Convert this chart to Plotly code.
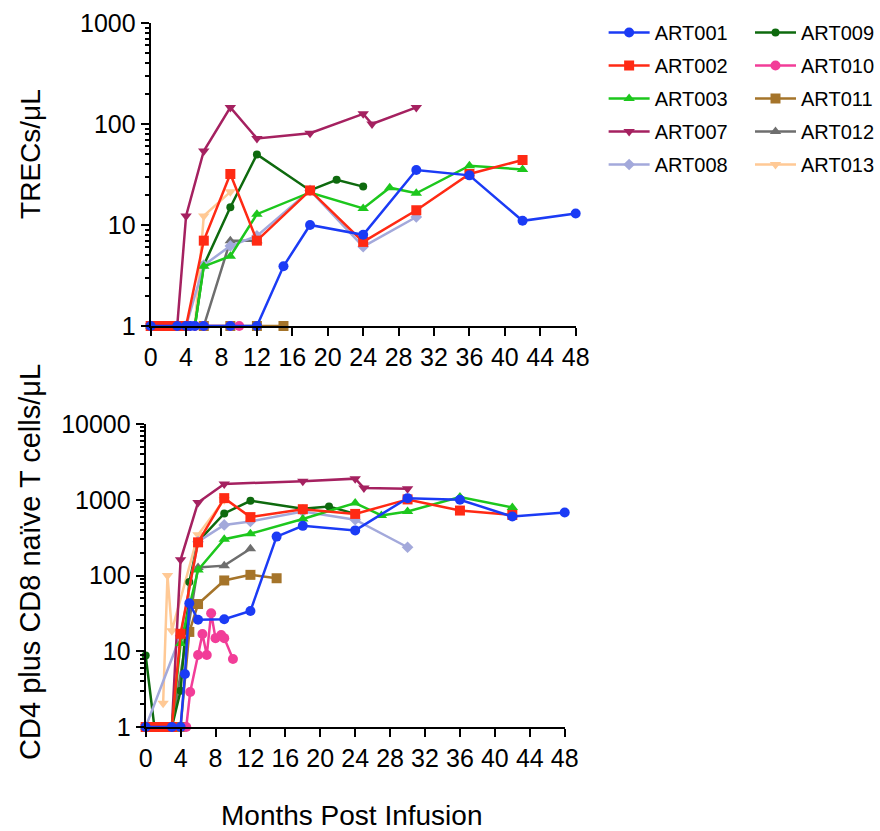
import plotly.graph_objects as go

# ---- data: months post infusion and measured values per patient ----
patients = ["ART001", "ART002", "ART003", "ART007", "ART008",
            "ART009", "ART010", "ART011", "ART012", "ART013"]

# TRECs/uL (top panel)
trec_months_001 = [0, 3, 4, 4.5, 5, 6, 9, 12, 15, 18, 24, 30, 36, 42, 48]
trec_vals_001 = [1, 1, 1, 1, 1, 1, 1, 1, 3.9, 10, 8, 35, 31, 11, 13]
trec_months_002 = [0, 1, 2, 3, 4, 6, 9, 12, 18, 24, 30, 36, 42]
trec_vals_002 = [1, 1, 1, 1, 1, 7, 32, 7, 22, 6.8, 14, 32, 44]
trec_months_003 = [0, 1, 2, 3, 4, 5, 6, 9, 12, 18, 24, 27, 30, 36, 42]
trec_vals_003 = [1, 1, 1, 1, 1, 1, 3.9, 4.9, 12.8, 21, 14.6, 23.4, 20.6, 38.6, 35.5]
trec_months_007 = [0, 1, 2, 3, 4, 6, 9, 12, 18, 24, 25, 30]
trec_vals_007 = [1, 1, 1, 1, 12.3, 54, 146, 72, 81, 126, 100, 146]
trec_months_008 = [0, 4, 6, 9, 12, 18, 24, 30]
trec_vals_008 = [1, 1, 4, 6.2, 7.8, 22, 6.1, 12]
trec_months_009 = [0, 1, 2, 3, 4, 5, 6, 9, 12, 18, 21, 24]
trec_vals_009 = [1, 1, 1, 1, 1, 1, 4, 15, 50, 22, 28, 24]
trec_months_010 = [5, 6, 9, 10]
trec_vals_010 = [1, 1, 1, 1]
trec_months_011 = [6, 9, 12, 15]
trec_vals_011 = [1, 1, 1, 1]
trec_months_012 = [6, 9, 12]
trec_vals_012 = [1, 7, 7]
trec_months_013 = [5, 6, 9]
trec_vals_013 = [1, 12.3, 21.3]

# CD4 plus CD8 naive T cells/uL (bottom panel)
naive_months_001 = [0, 3, 4, 4.5, 5, 6, 9, 12, 15, 18, 24, 30, 36, 42, 48]
naive_vals_001 = [1, 1, 1, 5, 43, 26, 26.5, 34, 326, 452, 394, 1050, 1000, 600, 680]
naive_months_002 = [0, 1, 2, 3, 4, 6, 9, 12, 18, 24, 30, 36, 42]
naive_vals_002 = [1, 1, 1, 1, 17, 274, 1050, 590, 750, 650, 1010, 720, 630]
naive_months_003 = [0, 1, 2, 3, 4, 6, 9, 12, 18, 24, 27, 30, 36, 42]
naive_vals_003 = [1, 1, 1, 1, 12.7, 118, 301, 356, 558, 906, 620, 700, 1085, 790]
naive_months_007 = [0, 1, 2, 3, 4, 6, 9, 18, 24, 25, 30]
naive_vals_007 = [1, 1, 1, 1, 161, 922, 1620, 1750, 1900, 1430, 1400]
naive_months_008 = [0, 4, 6, 9, 12, 18, 24, 30]
naive_vals_008 = [1, 16, 280, 465, 517, 700, 545, 236]
naive_months_009 = [0, 1, 2, 3, 4, 5, 6, 9, 12, 18, 21, 24]
naive_vals_009 = [8.8, 1, 1, 1, 3, 82, 280, 660, 970, 760, 815, 650]
naive_months_010 = [4.65, 5.1, 6, 6.5, 7, 7.5, 8, 8.65, 9, 10]
naive_vals_010 = [1, 2.9, 8.9, 16.9, 8.9, 31.8, 14.9, 16.4, 14.9, 7.9]
naive_months_011 = [4, 5, 6, 9, 12, 15]
naive_vals_011 = [1, 18, 42, 86, 102, 92]
naive_months_012 = [3, 6, 9, 12]
naive_vals_012 = [1, 128, 135, 225]
naive_months_013 = [2, 2.5, 3, 6, 9]
naive_vals_013 = [2.06, 100, 18.7, 344, 1000]

x_ticks = list(range(0, 49, 4))
trec_ticks = [1, 10, 100, 1000]
naive_ticks = [1, 10, 100, 1000, 10000]

trec_series = {
    "ART001": (trec_months_001, trec_vals_001), "ART002": (trec_months_002, trec_vals_002),
    "ART003": (trec_months_003, trec_vals_003), "ART007": (trec_months_007, trec_vals_007),
    "ART008": (trec_months_008, trec_vals_008), "ART009": (trec_months_009, trec_vals_009),
    "ART010": (trec_months_010, trec_vals_010), "ART011": (trec_months_011, trec_vals_011),
    "ART012": (trec_months_012, trec_vals_012), "ART013": (trec_months_013, trec_vals_013),
}
naive_series = {
    "ART001": (naive_months_001, naive_vals_001), "ART002": (naive_months_002, naive_vals_002),
    "ART003": (naive_months_003, naive_vals_003), "ART007": (naive_months_007, naive_vals_007),
    "ART008": (naive_months_008, naive_vals_008), "ART009": (naive_months_009, naive_vals_009),
    "ART010": (naive_months_010, naive_vals_010), "ART011": (naive_months_011, naive_vals_011),
    "ART012": (naive_months_012, naive_vals_012), "ART013": (naive_months_013, naive_vals_013),
}

# ---- styles ----
style = {
    "ART001": ("#1B3BF5", "circle", 10),
    "ART002": ("#FF2A14", "square", 10),
    "ART003": ("#1DC71D", "triangle-up", 10),
    "ART007": ("#A52160", "triangle-down", 10),
    "ART008": ("#A3A9DB", "diamond", 9),
    "ART009": ("#0E6A0E", "circle", 8),
    "ART010": ("#F23D98", "circle", 10),
    "ART011": ("#A5742A", "square", 10),
    "ART012": ("#6E6E6E", "triangle-up", 10),
    "ART013": ("#FFC995", "triangle-down", 10),
}

W, H = 880, 831
FONT = "Liberation Sans, Arial, sans-serif"

def px_x(p):
    return p / W

def px_y(p):
    return 1 - p / H

fig = go.Figure()

# draw the later patients first so ART001 sits on top
for rank, name in reversed(list(enumerate(patients))):
    color, symbol, size = style[name]
    legend_id = "legend" if rank < 5 else "legend2"
    for panel, series in (("top", trec_series), ("bottom", naive_series)):
        xs, ys = series[name]
        fig.add_trace(go.Scatter(
            x=xs, y=ys, mode="lines+markers", name=name,
            legendgroup=name, showlegend=(panel == "top"),
            legend=legend_id, legendrank=rank,
            line=dict(color=color, width=2.5),
            marker=dict(color=color, symbol=symbol, size=size),
            cliponaxis=False,
            xaxis="x" if panel == "top" else "x2",
            yaxis="y" if panel == "top" else "y2",
        ))

axis_common = dict(
    showline=True, linecolor="black", linewidth=2,
    ticks="outside", tickcolor="black", tickwidth=2, ticklen=8,
    showgrid=False, zeroline=False, automargin=False,
    tickfont=dict(family=FONT, size=25, color="black"),
)

def minor_vals(decades):
    return [m * 10 ** d for d in range(decades) for m in range(2, 10)]

legend_common = dict(xanchor="left", yanchor="top",
                     font=dict(family=FONT, size=20, color="black"),
                     itemwidth=41, tracegroupgap=4, bgcolor="rgba(0,0,0,0)")

fig.update_layout(
    width=W, height=H,
    margin=dict(l=0, r=0, t=0, b=0),
    paper_bgcolor="white", plot_bgcolor="white",
    font=dict(family=FONT, color="black"),
    xaxis=dict(axis_common, domain=[px_x(151), px_x(577)], range=[0, 48],
               tickvals=x_ticks, anchor="y"),
    yaxis=dict(axis_common, domain=[px_y(326), px_y(23)], type="log", range=[0, 3],
               tickvals=trec_ticks, ticktext=[str(v) for v in trec_ticks], anchor="x",
               minor=dict(tickvals=minor_vals(3), ticks="outside", ticklen=4,
                          tickcolor="black", tickwidth=2)),
    xaxis2=dict(axis_common, domain=[px_x(146), px_x(566)], range=[0, 48],
                tickvals=x_ticks, anchor="y2"),
    yaxis2=dict(axis_common, domain=[px_y(727), px_y(424)], type="log", range=[0, 4],
                tickvals=naive_ticks, ticktext=[str(v) for v in naive_ticks], anchor="x2",
                minor=dict(tickvals=minor_vals(4), ticks="outside", ticklen=4,
                           tickcolor="black", tickwidth=2)),
    legend=dict(legend_common, x=px_x(605), y=px_y(13)),
    legend2=dict(legend_common, x=px_x(752), y=px_y(13)),
    annotations=[
        dict(text="TRECs/\u03bcL", x=px_x(30), y=px_y(154), xref="paper", yref="paper",
             textangle=-90, showarrow=False, xanchor="center", yanchor="middle",
             font=dict(family=FONT, size=28, color="black")),
        dict(text="CD4 plus CD8 na\u00efve T cells/\u03bcL", x=px_x(30), y=px_y(562),
             xref="paper", yref="paper", textangle=-90, showarrow=False,
             xanchor="center", yanchor="middle",
             font=dict(family=FONT, size=29, color="black")),
        dict(text="Months Post Infusion", x=px_x(352), y=px_y(815), xref="paper",
             yref="paper", showarrow=False, xanchor="center", yanchor="middle",
             font=dict(family=FONT, size=28, color="black")),
    ],
)

fig.write_html("out.html")
